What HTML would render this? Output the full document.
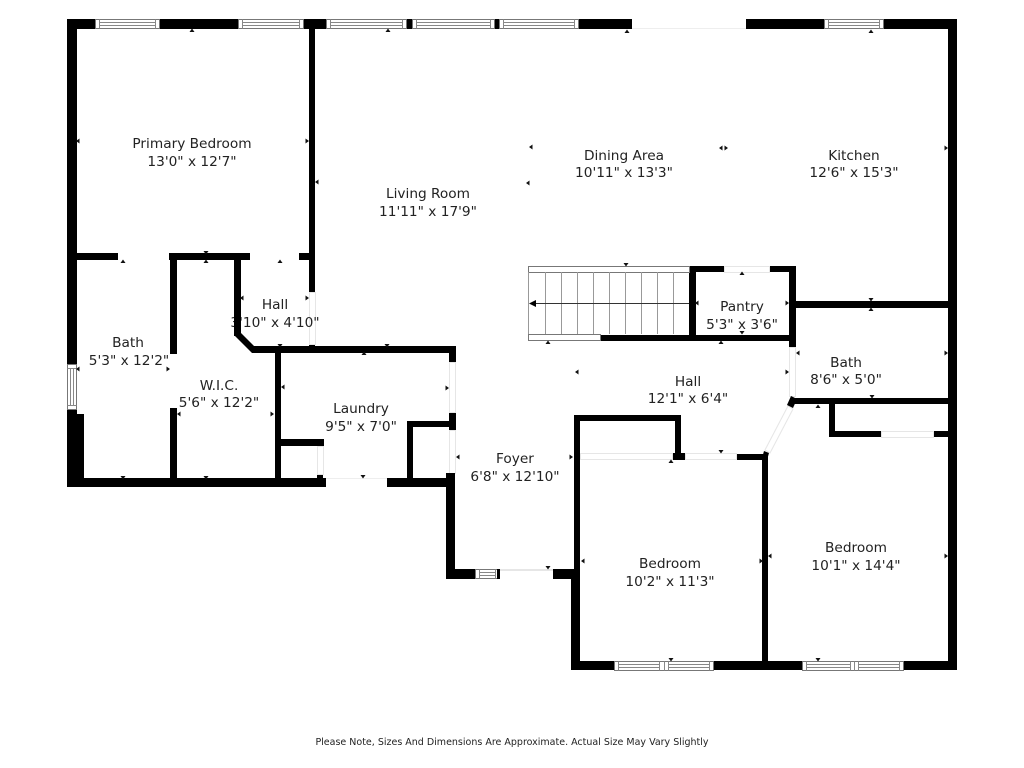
<!DOCTYPE html>
<html><head><meta charset="utf-8"><title>Floor Plan</title>
<style>
html,body{margin:0;padding:0;background:#fff;width:1024px;height:768px;overflow:hidden}
svg{display:block}
text{font-family:"DejaVu Sans","Liberation Sans",sans-serif;font-size:13.7px;fill:#222;text-anchor:middle}
text.f{font-size:9.5px;fill:#222}
.d{fill:#fff;stroke:#e6e6e6;stroke-width:1}
.w{fill:#fff;stroke:#777;stroke-width:1}
.l{stroke:#888;stroke-width:1;fill:none}
.s{stroke:#999;stroke-width:1}
</style></head><body>
<svg width="1024" height="768" viewBox="0 0 1024 768" xmlns="http://www.w3.org/2000/svg">
<rect width="1024" height="768" fill="#fff"/>

<!-- doors / openings -->
<g>
<line x1="632" y1="28.5" x2="746" y2="28.5" stroke="#eee"/>
<rect class="d" x="309.5" y="292.5" width="6" height="52"/>
<rect class="d" x="449.5" y="362.5" width="6" height="50"/>
<rect class="d" x="449.5" y="430.5" width="6" height="43"/>
<rect class="d" x="317.5" y="446.5" width="6" height="28"/>
<line x1="323" y1="478.5" x2="387" y2="478.5" stroke="#eee"/>
<rect class="d" x="500.5" y="569.5" width="52" height="1" />
<rect class="d" x="580.5" y="453.5" width="92" height="6"/>
<rect class="d" x="685.5" y="453.5" width="51" height="6"/>
<rect class="d" x="724.5" y="266.5" width="45" height="6"/>
<rect class="d" x="789.5" y="347.5" width="6" height="49"/>
<rect class="d" x="881.5" y="431.5" width="52" height="6"/>
<polygon class="d" points="788,406 793,409 770,453 765,450"/>
</g>

<!-- labels -->
<text x="192" y="148">Primary Bedroom</text><text x="192" y="166">13'0" x 12'7"</text>
<text x="428" y="198">Living Room</text><text x="428" y="216">11'11" x 17'9"</text>
<text x="624" y="160">Dining Area</text><text x="624" y="177">10'11" x 13'3"</text>
<text x="854" y="160">Kitchen</text><text x="854" y="177">12'6" x 15'3"</text>
<text x="275" y="309">Hall</text><text x="275" y="327">3'10" x 4'10"</text>
<text x="128" y="347">Bath</text><text x="129" y="365">5'3" x 12'2"</text>
<text x="219" y="390">W.I.C.</text><text x="219" y="407">5'6" x 12'2"</text>
<text x="361" y="413">Laundry</text><text x="361" y="431">9'5" x 7'0"</text>
<text x="742" y="311">Pantry</text><text x="742" y="329">5'3" x 3'6"</text>
<text x="688" y="386">Hall</text><text x="688" y="403">12'1" x 6'4"</text>
<text x="846" y="367">Bath</text><text x="846" y="384">8'6" x 5'0"</text>
<text x="515" y="463">Foyer</text><text x="515" y="481">6'8" x 12'10"</text>
<text x="670" y="568">Bedroom</text><text x="670" y="586">10'2" x 11'3"</text>
<text x="856" y="552">Bedroom</text><text x="856" y="570">10'1" x 14'4"</text>
<text class="f" x="512" y="745">Please Note, Sizes And Dimensions Are Approximate. Actual Size May Vary Slightly</text>

<!-- walls -->
<g fill="#000">
<rect x="67" y="19" width="565" height="10"/>
<rect x="746" y="19" width="211" height="10"/>
<rect x="948" y="19" width="9" height="651"/>
<rect x="67" y="19" width="10" height="345"/>
<rect x="67" y="409" width="10" height="78"/>
<rect x="67" y="414" width="17" height="73"/>
<rect x="67" y="478" width="259" height="9"/>
<rect x="309" y="19" width="6" height="273"/>
<rect x="309" y="345" width="6" height="4"/>
<rect x="77" y="253" width="41" height="7"/>
<rect x="169" y="253" width="81" height="7"/>
<rect x="170" y="253" width="7" height="101"/>
<rect x="170" y="408" width="7" height="72"/>
<rect x="234" y="253" width="7" height="83"/>
<polygon points="234,335 241,333 255,347 255,353 252,353"/>
<rect x="299" y="253" width="11" height="7"/>
<rect x="253" y="346" width="203" height="7"/>
<rect x="449" y="346" width="7" height="16"/>
<rect x="449" y="413" width="7" height="17"/>
<rect x="275" y="346" width="6" height="134"/>
<rect x="281" y="439" width="43" height="7"/>
<rect x="317" y="475" width="6" height="4"/>
<rect x="407" y="421" width="6" height="58"/>
<rect x="407" y="421" width="43" height="6"/>
<rect x="387" y="478" width="68" height="9"/>
<rect x="446" y="473" width="9" height="106"/>
<rect x="446" y="569" width="29" height="10"/>
<rect x="553" y="569" width="27" height="10"/>
<rect x="574" y="415" width="6" height="165"/>
<rect x="571" y="578" width="9" height="92"/>
<rect x="574" y="415" width="107" height="6"/>
<rect x="675" y="415" width="6" height="40"/>
<rect x="673" y="453" width="12" height="7"/>
<rect x="737" y="454" width="31" height="6"/>
<rect x="762" y="454" width="6" height="216"/>
<rect x="571" y="661" width="386" height="9"/>
<rect x="600" y="335" width="196" height="6"/>
<rect x="689" y="266" width="7" height="75"/>
<rect x="689" y="266" width="35" height="6"/>
<rect x="770" y="266" width="26" height="6"/>
<rect x="789" y="266" width="7" height="81"/>
<rect x="796" y="301" width="152" height="7"/>
<rect x="790" y="398" width="158" height="6"/>
<polygon points="791,396 797,399 793,408 787,405"/>
<polygon points="764,451 769,453 767,460 762,458"/>
<rect x="829" y="404" width="6" height="33"/>
<rect x="829" y="431" width="52" height="6"/>
<rect x="934" y="431" width="14" height="6"/>
</g>

<!-- windows -->
<g>
<rect class="w" x="95.5" y="19.5" width="64" height="9"/><path class="l" d="M99.5 19.5v9M155.5 19.5v9M99.5 22.5h56M99.5 25.5h56"/>
<rect class="w" x="238.5" y="19.5" width="65" height="9"/><path class="l" d="M242.5 19.5v9M299.5 19.5v9M242.5 22.5h57M242.5 25.5h57"/>
<rect class="w" x="326.5" y="19.5" width="80" height="9"/><path class="l" d="M330.5 19.5v9M402.5 19.5v9M330.5 22.5h72M330.5 25.5h72"/>
<rect class="w" x="412.5" y="19.5" width="82" height="9"/><path class="l" d="M416.5 19.5v9M490.5 19.5v9M416.5 22.5h74M416.5 25.5h74"/>
<rect class="w" x="499.5" y="19.5" width="79" height="9"/><path class="l" d="M503.5 19.5v9M574.5 19.5v9M503.5 22.5h71M503.5 25.5h71"/>
<rect class="w" x="824.5" y="19.5" width="59" height="9"/><path class="l" d="M828.5 19.5v9M879.5 19.5v9M828.5 22.5h51M828.5 25.5h51"/>
<rect class="w" x="67.5" y="364.5" width="9" height="45"/><path class="l" d="M67.5 368.5h9M67.5 405.5h9M70.5 368.5v37M73.5 368.5v37"/>
<rect class="w" x="475.5" y="569.5" width="24" height="9"/><path class="l" d="M479.5 569.5v9M495.5 569.5v9M479.5 572.5h16M479.5 575.5h16"/>
<rect x="497" y="569" width="3" height="10" fill="#000"/>
<rect class="w" x="614.5" y="661.5" width="99" height="9"/><path class="l" d="M618.5 661.5v9M659.5 661.5v9M664.5 661.5v9M668.5 661.5v9M709.5 661.5v9M618.5 664.5h41M618.5 667.5h41M668.5 664.5h41M668.5 667.5h41"/>
<rect class="w" x="802.5" y="661.5" width="101" height="9"/><path class="l" d="M806.5 661.5v9M850.5 661.5v9M854.5 661.5v9M858.5 661.5v9M899.5 661.5v9M806.5 664.5h44M806.5 667.5h44M858.5 664.5h41M858.5 667.5h41"/>
</g>

<!-- stairs -->
<g>
<rect x="528.5" y="266.5" width="161" height="6" fill="#fff" stroke="#777"/>
<rect x="528.5" y="334.5" width="72" height="6" fill="#fff" stroke="#777"/>
<path class="s" d="M528.5 272v62M545.5 272v62M561.5 272v62M577.5 272v62M593.5 272v62M609.5 272v62M625.5 272v62M641.5 272v62M657.5 272v62M673.5 272v62"/>
<line x1="532" y1="303.5" x2="689" y2="303.5" stroke="#333"/>
<polygon points="529,303.5 536,300 536,307" fill="#000"/>
</g>

<!-- tick marks -->
<g fill="#111">
<path d="M189.500 32h5l-2.500-3.500zM385.500 32h5l-2.500-3.500zM624.500 33h5l-2.500-3.500zM868.500 33h5l-2.500-3.500zM120.500 263h5l-2.500-3.500zM203.500 263h5l-2.500-3.500zM277.500 263h5l-2.500-3.500zM361.500 355h5l-2.500-3.500zM545.500 344h5l-2.500-3.500zM718.500 344h5l-2.500-3.500zM739.500 275h5l-2.500-3.500zM868.500 311h5l-2.500-3.500zM815.500 408h5l-2.500-3.500zM668.500 463h5l-2.500-3.500z"/>
<path d="M203.500 251h5l-2.500 3.500zM120.500 476h5l-2.500 3.500zM203.500 476h5l-2.500 3.500zM277.500 344h5l-2.500 3.500zM384.500 344h5l-2.500 3.500zM360.500 475h5l-2.500 3.500zM545.500 566h5l-2.500 3.500zM623.500 263h5l-2.500 3.500zM739.500 331h5l-2.500 3.500zM868.500 298h5l-2.500 3.500zM869.500 395h5l-2.500 3.500zM718.500 450h5l-2.500 3.500zM668.500 658h5l-2.500 3.500zM815.500 658h5l-2.500 3.500z"/>
<path d="M79.500 138.500v5l-3.500-2.500zM318.500 179.500v5l-3.500-2.500zM79.500 366.500v5l-3.500-2.500zM243.500 295.500v5l-3.500-2.500zM180.500 411.500v5l-3.500-2.500zM284.500 384.500v5l-3.500-2.500zM459.500 454.500v5l-3.500-2.500zM532.500 144.500v5l-3.500-2.500zM529.500 180.500v5l-3.500-2.500zM578.500 369.500v5l-3.500-2.500zM722.500 145.500v5l-3.500-2.500zM584.500 558.500v5l-3.500-2.500zM771.500 553.500v5l-3.500-2.500zM698.500 300.500v5l-3.500-2.500zM799.500 350.500v5l-3.500-2.500z"/>
<path d="M305.500 138.500v5l3.500-2.500zM166.500 366.500v5l3.500-2.500zM305.500 295.500v5l3.500-2.500zM270.500 411.500v5l3.500-2.500zM445.500 385.500v5l3.500-2.500zM569.500 454.500v5l3.500-2.500zM724.500 145.500v5l3.500-2.500zM944.500 145.500v5l3.500-2.500zM759.500 558.500v5l3.500-2.500zM944.500 553.500v5l3.500-2.500zM785.500 300.500v5l3.500-2.500zM785.500 369.500v5l3.500-2.500zM944.500 350.500v5l3.500-2.500z"/>
</g>
</svg>
</body></html>
